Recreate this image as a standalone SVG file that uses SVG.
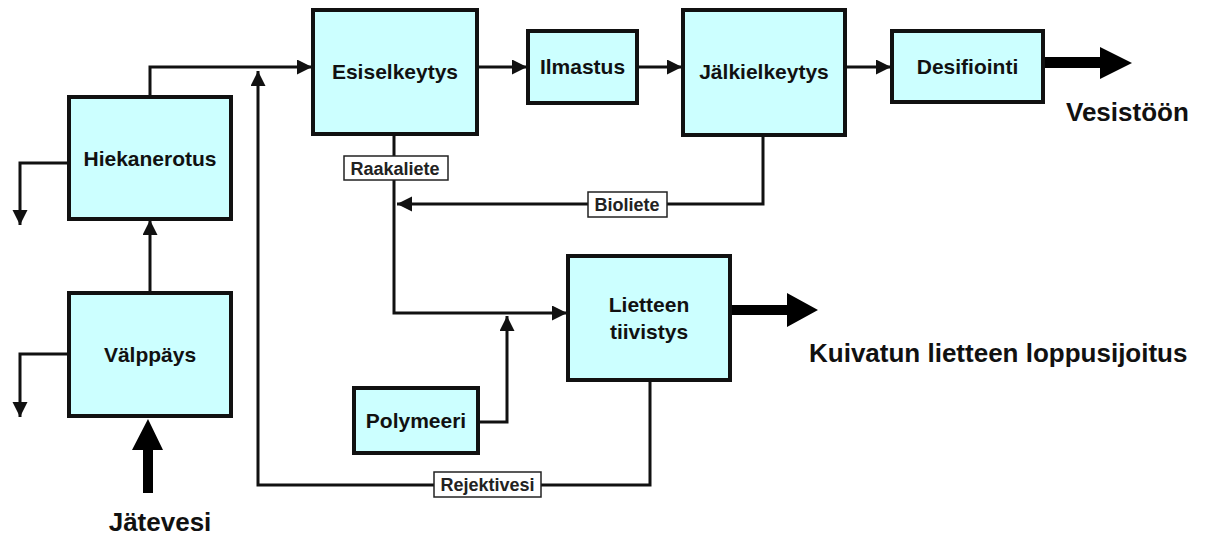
<svg xmlns="http://www.w3.org/2000/svg" width="1210" height="535" viewBox="0 0 1210 535">
<style>
.box{fill:#ccffff;stroke:#111;stroke-width:4}
.t{font-family:"Liberation Sans",Arial,sans-serif;font-weight:bold;font-size:21px;fill:#111;text-anchor:middle}
.big{font-family:"Liberation Sans",Arial,sans-serif;font-weight:bold;font-size:26px;fill:#111}
.lbl{fill:#fff;stroke:#222;stroke-width:1.5}
.lt{font-family:"Liberation Sans",Arial,sans-serif;font-weight:bold;font-size:18px;fill:#222;text-anchor:middle}
.c{fill:none;stroke:#111;stroke-width:3}
.thick{fill:#000}
</style>
<defs>
<marker id="a" markerUnits="userSpaceOnUse" markerWidth="16" markerHeight="16" refX="15" refY="7.5" orient="auto">
<path d="M0,0 L15,7.5 L0,15 z" fill="#111"/>
</marker>
</defs>
<rect width="1210" height="535" fill="#fff"/>
<g id="connectors">
<path class="c" d="M150,97 V67 H312" marker-end="url(#a)"/>
<path class="c" d="M69,163 H20 V225" marker-end="url(#a)"/>
<path class="c" d="M150,293 V220" marker-end="url(#a)"/>
<path class="c" d="M69,354 H20 V417" marker-end="url(#a)"/>
<path class="c" d="M477,67 H527" marker-end="url(#a)"/>
<path class="c" d="M637,67 H682" marker-end="url(#a)"/>
<path class="c" d="M845,67 H891" marker-end="url(#a)"/>
<path class="c" d="M394,134 V313 H567" marker-end="url(#a)"/>
<path class="c" d="M763,135 V204 H397" marker-end="url(#a)"/>
<path class="c" d="M478,422 H507 V316" marker-end="url(#a)"/>
<path class="c" d="M650,380 V485 H258 V71" marker-end="url(#a)"/>
<polygon class="thick" points="143,493 153,493 153,450 163,450 148,419 132,450 143,450"/>
<polygon class="thick" points="1045,57 1100,57 1100,47 1132,63 1100,79 1100,68 1045,68"/>
<polygon class="thick" points="730,305 787,305 787,293 818,310 787,327 787,315 730,315"/>
<g id="label-raakaliete">
<rect class="lbl" x="344" y="156" width="104" height="24"/>
<text class="lt" x="395" y="174.5">Raakaliete</text>
</g>
<g id="label-bioliete">
<rect class="lbl" x="588" y="192" width="79" height="25"/>
<text class="lt" x="627" y="211">Bioliete</text>
</g>
<g id="label-rejektivesi">
<rect class="lbl" x="434" y="472" width="107" height="25"/>
<text class="lt" x="487.5" y="491">Rejektivesi</text>
</g>
</g>
<g id="hiekanerotus">
<rect class="box" x="69" y="97" width="162" height="122"/>
<text class="t" x="150" y="166">Hiekanerotus</text>
</g>
<g id="valppays">
<rect class="box" x="69" y="293" width="162" height="123"/>
<text class="t" x="150" y="362">Välppäys</text>
</g>
<g id="esiselkeytys">
<rect class="box" x="313" y="10" width="164" height="124"/>
<text class="t" x="395" y="79">Esiselkeytys</text>
</g>
<g id="ilmastus">
<rect class="box" x="528" y="31" width="109" height="72"/>
<text class="t" x="582.5" y="74">Ilmastus</text>
</g>
<g id="jalkielkeytys">
<rect class="box" x="683" y="10" width="162" height="125"/>
<text class="t" x="764" y="79">Jälkielkeytys</text>
</g>
<g id="desifiointi">
<rect class="box" x="892" y="31" width="151" height="71"/>
<text class="t" x="967.5" y="74">Desifiointi</text>
</g>
<g id="lietteen-tiivistys">
<rect class="box" x="568" y="256" width="162" height="124"/>
<text class="t" x="649" y="312">Lietteen</text>
<text class="t" x="649" y="339">tiivistys</text>
</g>
<g id="polymeeri">
<rect class="box" x="354" y="388" width="124" height="65"/>
<text class="t" x="416" y="428">Polymeeri</text>
</g>
<g id="jatevesi">
<text class="big" x="160" y="531" text-anchor="middle">Jätevesi</text>
</g>
<g id="vesistoon">
<text class="big" x="1066" y="121">Vesistöön</text>
</g>
<g id="kuivatun">
<text class="big" x="809" y="362">Kuivatun lietteen loppusijoitus</text>
</g>
</svg>
